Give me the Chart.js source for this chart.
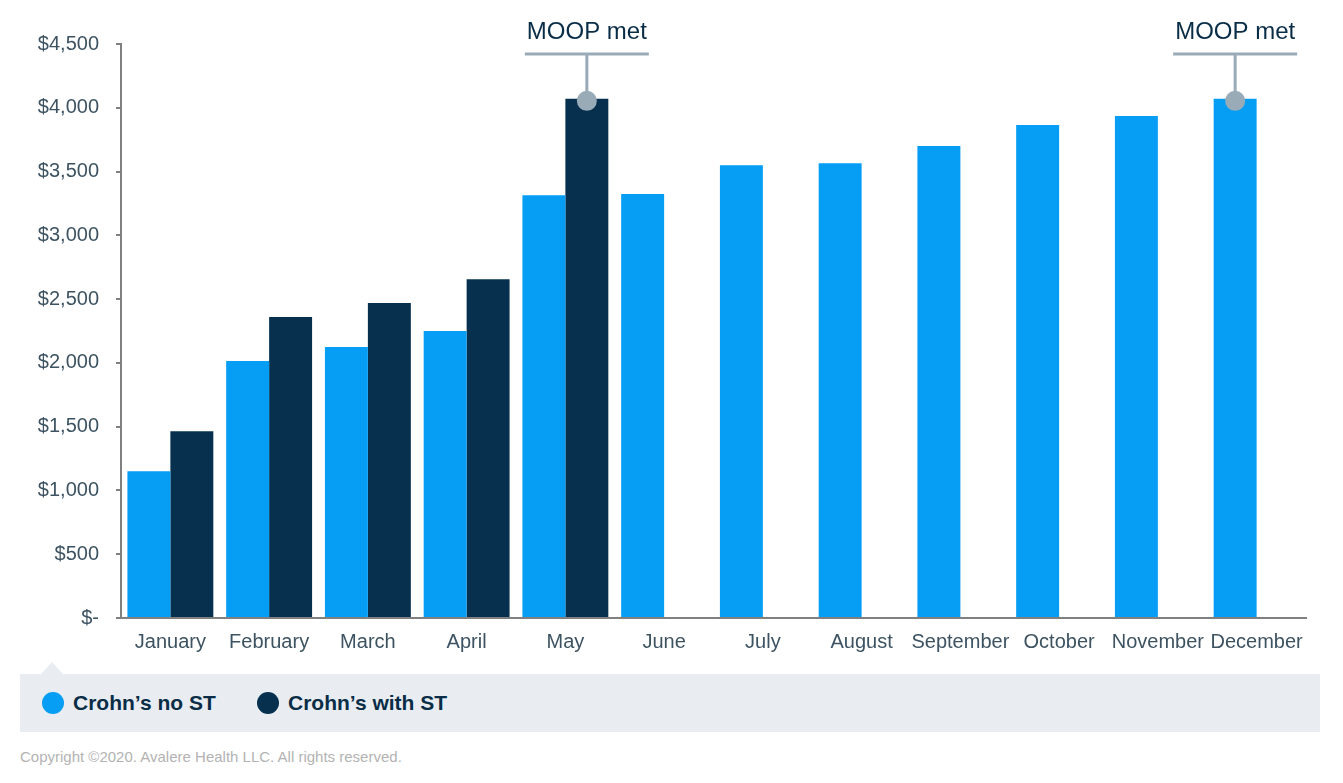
<!DOCTYPE html>
<html lang="en">
<head>
    <meta charset="UTF-8">
    <title>Crohn's out-of-pocket costs</title>
    <style>
        body {
            margin: 0;
            width: 1343px;
            height: 783px;
            background: #fff;
            font-family: 'Liberation Sans', Arial, sans-serif;
            position: relative;
            overflow: hidden;
        }
        #wrap {
            position: absolute;
            left: 0;
            top: 0;
            width: 1343px;
            height: 665px;
        }
        #legend {
            position: absolute;
            left: 20px;
            top: 674px;
            width: 1300px;
            height: 58px;
            background: #e9edf1;
        }
        #legend:before {
            content: '';
            position: absolute;
            left: 21px;
            top: -12px;
            border-left: 11px solid transparent;
            border-right: 11px solid transparent;
            border-bottom: 12px solid #e9edf1;
        }
        .item {
            position: absolute;
            top: 18px;
            font-weight: bold;
            font-size: 21px;
            color: #0a2d47;
            line-height: 22px;
        }
        .dot {
            display: inline-block;
            width: 22px;
            height: 22px;
            border-radius: 50%;
            vertical-align: top;
            margin-right: 9px;
        }
        #copy {
            position: absolute;
            left: 20px;
            top: 748px;
            font-size: 15px;
            color: #b3b3b3;
        }
    </style>
    <script src="https://cdn.jsdelivr.net/npm/chart.js"></script>
</head>
<body>
    <div id="wrap"><canvas id="costChart"></canvas></div>
    <div id="legend">
        <div class="item" style="left:22px"><span class="dot" style="background:#059ef4"></span>Crohn’s no ST</div>
        <div class="item" style="left:237px"><span class="dot" style="background:#06304d"></span>Crohn’s with ST</div>
    </div>
    <div id="copy">Copyright ©2020. Avalere Health LLC. All rights reserved.</div>

    <script>
        const months = ['January', 'February', 'March', 'April', 'May', 'June',
            'July', 'August', 'September', 'October', 'November', 'December'];
        const noST = [1150, 2015, 2125, 2250, 3315, 3325, 3550, 3565, 3700, 3865, 3935, 4070];
        const withST = [1465, 2360, 2470, 2655, 4070, null, null, null, null, null, null, null];
        const yTicks = [0, 500, 1000, 1500, 2000, 2500, 3000, 3500, 4000, 4500];
        // [dataset, index] of bars where MOOP is met
        const moopBars = [[1, 4], [0, 11]];

        const textColor = '#3d5362';
        const axisColor = '#808080';

        const moopPlugin = {
            id: 'moop',
            afterDatasetsDraw(chart) {
                const ctx = chart.ctx;
                const top = chart.chartArea.top;
                moopBars.forEach(([ds, i]) => {
                    const bar = chart.getDatasetMeta(ds).data[i];
                    const x = bar.x;
                    const y = bar.y + 2;
                    const lineY = top + 10;
                    ctx.save();
                    ctx.strokeStyle = '#9aabb8';
                    ctx.lineWidth = 3;
                    ctx.beginPath();
                    ctx.moveTo(x - 62, lineY);
                    ctx.lineTo(x + 62, lineY);
                    ctx.moveTo(x, lineY);
                    ctx.lineTo(x, y);
                    ctx.stroke();
                    ctx.fillStyle = '#9aabb8';
                    ctx.beginPath();
                    ctx.arc(x, y, 10, 0, Math.PI * 2);
                    ctx.fill();
                    ctx.fillStyle = '#0a2d47';
                    ctx.font = "24px 'Liberation Sans', Arial, sans-serif";
                    ctx.textAlign = 'center';
                    ctx.textBaseline = 'middle';
                    ctx.fillText('MOOP met', x, top - 12);
                    ctx.restore();
                });
            }
        };

        new Chart(document.getElementById('costChart'), {
            type: 'bar',
            data: {
                labels: months,
                datasets: [{
                    label: 'Crohn’s no ST',
                    data: noST,
                    backgroundColor: '#059ef4'
                }, {
                    label: 'Crohn’s with ST',
                    data: withST,
                    backgroundColor: '#06304d'
                }]
            },
            options: {
                responsive: true,
                maintainAspectRatio: false,
                animation: false,
                layout: { padding: { top: 44, right: 37, left: 0, bottom: 0 } },
                plugins: {
                    legend: { display: false },
                    tooltip: { enabled: false }
                },
                datasets: {
                    bar: { categoryPercentage: 0.87, barPercentage: 1.0 }
                },
                scales: {
                    x: {
                        grid: { display: false, drawTicks: false },
                        border: { color: axisColor, width: 2 },
                        ticks: {
                            color: textColor,
                            font: { family: "'Liberation Sans', Arial, sans-serif", size: 20 },
                            padding: 12,
                            maxRotation: 0,
                            autoSkip: false
                        },
                        afterFit(scale) { scale.height = 47; }
                    },
                    y: {
                        min: 0,
                        max: 4500,
                        afterBuildTicks(scale) {
                            scale.ticks = yTicks.map(v => ({ value: v }));
                        },
                        grid: {
                            drawOnChartArea: false,
                            drawTicks: true,
                            tickLength: 5,
                            color: axisColor,
                            lineWidth: 2
                        },
                        border: { color: axisColor, width: 2 },
                        ticks: {
                            color: textColor,
                            font: { family: "'Liberation Sans', Arial, sans-serif", size: 20 },
                            padding: 17,
                            callback: v => v === 0 ? '$-' : '$' + v.toLocaleString('en-US')
                        },
                        afterFit(scale) { scale.width = 121; }
                    }
                }
            },
            plugins: [moopPlugin]
        });
    </script>
</body>
</html>
